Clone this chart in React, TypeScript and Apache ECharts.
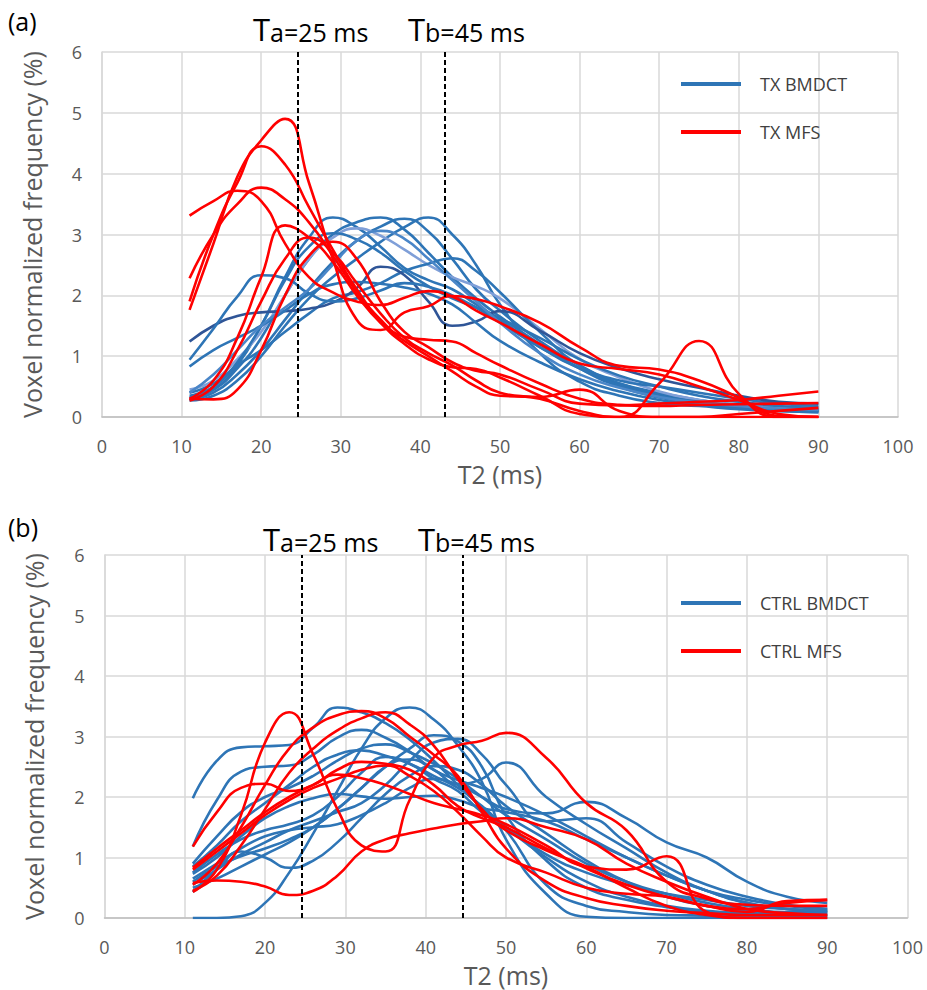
import React, { useEffect, useRef } from "react";
import * as echarts from "echarts";

// T2 sample positions (ms) shared by every curve
const T2_MS = [11, 14, 17, 20, 23, 26, 29, 32, 35, 38, 41, 44, 47, 50, 55, 60, 65, 70, 75, 80, 85, 90];

// (a) TX BMDCT curves
const TX_BMDCT = [
  [0.30, 0.45, 0.85, 1.50, 2.30, 2.95, 3.28, 3.12, 2.80, 2.45, 2.25, 2.10, 1.85, 1.60, 1.15, 0.80, 0.55, 0.40, 0.28, 0.20, 0.13, 0.10],
  [0.32, 0.45, 0.80, 1.30, 2.00, 2.60, 3.00, 3.20, 3.28, 3.08, 2.70, 2.30, 1.95, 1.65, 1.20, 0.80, 0.50, 0.32, 0.22, 0.15, 0.10, 0.08],
  [0.28, 0.40, 0.70, 1.10, 1.60, 2.10, 2.55, 2.90, 3.13, 3.26, 3.05, 2.60, 2.10, 1.75, 1.25, 0.85, 0.55, 0.38, 0.26, 0.18, 0.14, 0.12],
  [0.27, 0.35, 0.60, 1.00, 1.50, 1.95, 2.30, 2.60, 2.88, 3.12, 3.28, 3.00, 2.50, 1.85, 1.05, 0.58, 0.35, 0.23, 0.18, 0.13, 0.10, 0.08],
  [0.45, 0.60, 0.95, 1.40, 2.00, 2.60, 2.95, 3.10, 2.98, 2.75, 2.50, 2.30, 2.15, 1.95, 1.45, 0.95, 0.65, 0.42, 0.28, 0.20, 0.15, 0.12],
  [0.35, 0.50, 0.90, 1.50, 2.25, 2.80, 3.02, 2.92, 2.70, 2.40, 2.15, 1.95, 1.80, 1.62, 1.30, 0.95, 0.68, 0.50, 0.35, 0.25, 0.18, 0.15],
  [0.40, 0.55, 0.85, 1.10, 1.40, 1.70, 1.95, 2.05, 2.20, 2.40, 2.52, 2.61, 2.40, 2.05, 1.40, 0.85, 0.60, 0.50, 0.40, 0.30, 0.22, 0.18],
  [1.24, 1.50, 1.66, 1.72, 1.74, 1.78, 1.88, 2.12, 2.47, 2.33, 1.90, 1.50, 1.57, 1.74, 1.42, 1.05, 0.80, 0.62, 0.48, 0.35, 0.25, 0.22],
  [0.94, 1.45, 1.98, 2.33, 2.28, 2.03, 1.90, 1.95, 2.08, 2.20, 2.14, 2.00, 1.80, 1.55, 1.15, 0.80, 0.52, 0.35, 0.25, 0.18, 0.12, 0.10],
  [0.83, 1.10, 1.30, 1.50, 1.75, 2.02, 2.18, 2.22, 2.19, 2.13, 2.03, 1.85, 1.55, 1.25, 0.90, 0.62, 0.42, 0.28, 0.20, 0.15, 0.12, 0.10],
  [0.40, 0.70, 1.10, 1.50, 1.80, 2.10, 2.50, 2.90, 3.06, 2.93, 2.60, 2.25, 1.90, 1.55, 1.05, 0.70, 0.48, 0.33, 0.24, 0.18, 0.14, 0.12],
];

// (a) TX MFS curves
const TX_MFS = [
  [1.76, 2.85, 3.95, 4.55, 4.90, 3.85, 2.60, 1.60, 1.43, 1.72, 1.82, 1.99, 1.94, 1.82, 1.55, 1.15, 0.84, 0.78, 0.60, 0.32, 0.02, 0.00],
  [1.90, 3.00, 3.85, 4.45, 4.15, 3.45, 2.75, 2.10, 1.60, 1.32, 1.27, 1.24, 1.05, 0.85, 0.55, 0.30, 0.20, 0.18, 0.20, 0.21, 0.22, 0.23],
  [3.31, 3.55, 3.72, 3.55, 2.85, 2.30, 2.05, 1.90, 1.84, 1.96, 2.07, 1.98, 1.75, 1.55, 1.20, 0.88, 0.79, 0.70, 0.50, 0.28, 0.05, 0.00],
  [2.28, 3.00, 3.50, 3.77, 3.58, 3.20, 2.65, 2.05, 1.55, 1.20, 0.95, 0.82, 0.79, 0.65, 0.35, 0.05, 0.00, 0.55, 1.25, 0.38, 0.00, 0.00],
  [0.30, 0.60, 1.30, 2.30, 3.15, 2.95, 2.55, 2.00, 1.55, 1.25, 1.00, 0.75, 0.50, 0.35, 0.33, 0.45, 0.10, 0.00, 0.00, 0.00, 0.00, 0.00],
  [0.30, 0.29, 0.45, 1.10, 2.00, 2.65, 2.88, 2.60, 1.90, 1.40, 1.15, 0.90, 0.76, 0.70, 0.45, 0.22, 0.19, 0.22, 0.25, 0.28, 0.35, 0.42],
  [0.27, 0.50, 1.10, 1.90, 2.60, 2.95, 2.70, 2.20, 1.70, 1.30, 1.05, 0.85, 0.60, 0.40, 0.30, 0.10, 0.00, 0.00, 0.00, 0.05, 0.10, 0.15],
];

// (b) CTRL BMDCT curves
const CTRL_BMDCT = [
  [1.98, 2.60, 2.82, 2.84, 2.86, 3.15, 3.48, 3.40, 3.22, 2.95, 2.60, 2.20, 1.83, 1.45, 0.55, 0.20, 0.10, 0.05, 0.04, 0.03, 0.03, 0.03],
  [0.00, 0.00, 0.03, 0.25, 0.75, 1.40, 2.10, 2.80, 3.30, 3.48, 3.28, 2.85, 2.25, 1.30, 0.40, 0.02, 0.00, 0.00, 0.00, 0.00, 0.00, 0.00],
  [1.18, 1.95, 2.42, 2.50, 2.52, 2.70, 2.98, 3.11, 2.98, 2.75, 2.45, 2.28, 2.15, 2.00, 1.70, 1.35, 1.00, 0.70, 0.45, 0.25, 0.15, 0.12],
  [0.90, 1.35, 1.75, 2.00, 2.15, 2.35, 2.60, 2.80, 2.87, 2.74, 2.55, 2.30, 2.00, 1.70, 1.30, 0.90, 0.60, 0.40, 0.25, 0.15, 0.10, 0.10],
  [0.73, 1.00, 1.35, 1.65, 1.85, 1.98, 2.05, 2.01, 1.97, 2.00, 2.02, 1.95, 1.82, 1.75, 1.60, 1.30, 1.00, 0.70, 0.45, 0.30, 0.20, 0.15],
  [0.60, 0.85, 1.02, 1.15, 1.30, 1.50, 1.80, 2.15, 2.50, 2.62, 2.45, 2.22, 2.30, 2.57, 2.00, 1.55, 1.15, 0.75, 0.45, 0.25, 0.15, 0.10],
  [0.43, 0.80, 1.10, 1.00, 0.83, 0.95, 1.25, 1.65, 2.05, 2.35, 2.51, 2.45, 2.20, 1.85, 1.40, 0.95, 0.60, 0.35, 0.20, 0.12, 0.08, 0.08],
  [0.65, 0.90, 1.15, 1.35, 1.45, 1.50, 1.55, 1.70, 1.90, 2.15, 2.30, 2.20, 2.00, 1.80, 1.73, 1.92, 1.65, 1.25, 1.00, 0.60, 0.35, 0.25],
  [0.55, 0.80, 1.05, 1.25, 1.45, 1.60, 1.75, 1.90, 2.20, 2.60, 2.90, 2.96, 2.70, 2.20, 1.60, 1.65, 1.25, 0.85, 0.55, 0.35, 0.22, 0.15],
  [0.50, 0.65, 0.85, 1.05, 1.25, 1.50, 1.80, 2.15, 2.50, 2.80, 3.02, 2.92, 2.50, 1.70, 0.95, 0.50, 0.30, 0.18, 0.10, 0.06, 0.05, 0.05],
  [0.85, 1.20, 1.60, 1.90, 2.20, 2.50, 2.70, 2.77, 2.68, 2.55, 2.35, 2.15, 1.85, 1.50, 1.00, 0.60, 0.35, 0.20, 0.12, 0.08, 0.06, 0.05],
  [0.75, 1.05, 1.30, 1.45, 1.55, 1.70, 2.00, 2.40, 2.66, 2.55, 2.30, 2.10, 1.75, 1.50, 1.05, 0.75, 0.55, 0.40, 0.30, 0.20, 0.15, 0.12],
];

// (b) CTRL MFS curves
const CTRL_MFS = [
  [0.43, 0.80, 1.70, 2.90, 3.40, 2.70, 1.80, 1.20, 1.10, 1.95, 2.65, 2.85, 2.93, 3.06, 2.65, 1.90, 1.45, 0.60, 0.32, 0.22, 0.20, 0.20],
  [0.58, 0.62, 0.60, 0.52, 0.38, 0.45, 0.70, 1.10, 1.30, 1.40, 1.48, 1.55, 1.60, 1.65, 1.50, 1.30, 0.90, 0.60, 0.35, 0.15, 0.08, 0.05],
  [0.55, 0.90, 1.50, 2.20, 2.80, 3.15, 3.35, 3.42, 3.30, 3.00, 2.70, 2.35, 1.75, 1.15, 0.60, 0.33, 0.20, 0.12, 0.08, 0.05, 0.05, 0.05],
  [1.18, 1.75, 2.15, 2.22, 2.10, 2.20, 2.45, 2.58, 2.55, 2.45, 2.20, 1.85, 1.65, 1.50, 1.15, 0.82, 0.55, 0.35, 0.20, 0.10, 0.28, 0.30],
  [0.83, 1.15, 1.45, 1.75, 2.00, 2.20, 2.37, 2.31, 2.20, 2.05, 1.90, 1.80, 1.70, 1.55, 1.20, 0.85, 0.80, 1.02, 0.10, 0.00, 0.00, 0.00],
  [0.80, 1.10, 1.40, 1.70, 1.95, 2.15, 2.30, 2.45, 2.52, 2.35, 2.10, 1.75, 1.35, 1.00, 0.75, 0.50, 0.40, 0.35, 0.20, 0.15, 0.25, 0.30],
  [0.45, 0.70, 1.20, 1.80, 2.40, 2.80, 3.10, 3.30, 3.40, 3.20, 2.85, 2.30, 1.80, 1.45, 1.12, 0.85, 0.50, 0.20, 0.05, 0.00, 0.00, 0.00],
];

// threshold positions (ms) of the dashed lines
const THRESHOLDS_A = [24.6, 43.1];
const THRESHOLDS_B = [24.6, 44.6];

const FONT = "'Open Sans', 'DejaVu Sans', sans-serif";
const BLUE = "#2E75B6";
const RED = "#FF0000";
const BLUE_SHADES_A = [BLUE, BLUE, BLUE, BLUE, "#7F9FD8", BLUE, BLUE, "#2F5597", BLUE, BLUE, "#4A86C8"];
const GRID_COLOR = "#D9D9D9";
const TICK_COLOR = "#595959";

function buildSeries(curves: number[][], name: string, colors: string[], axisIdx: number, z: number) {
  return curves.map((ys, i) => ({
    type: "line",
    name,
    xAxisIndex: axisIdx,
    yAxisIndex: axisIdx,
    data: ys.map((y, j) => [T2_MS[j], y]),
    smooth: 0.5,
    symbol: "none",
    showSymbol: false,
    lineStyle: { color: colors[i % colors.length], width: 2.6 },
    itemStyle: { color: colors[0] },
    emphasis: { disabled: true },
    silent: true,
    z,
  }));
}

function thresholdLines(values: number[]) {
  return {
    symbol: "none",
    silent: true,
    label: { show: false },
    lineStyle: { color: "#000", type: [5, 3], width: 2 },
    data: values.map((v) => ({ xAxis: v })),
  };
}

function xAxisOpt(idx: number) {
  return {
    type: "value",
    gridIndex: idx,
    min: 0,
    max: 100,
    interval: 10,
    name: "T2 (ms)",
    nameLocation: "middle",
    nameGap: 44,
    nameTextStyle: { fontFamily: FONT, fontSize: 25, color: TICK_COLOR },
    axisLine: { show: true, lineStyle: { color: "#BFBFBF", width: 1.5 } },
    axisTick: { show: false },
    axisLabel: { fontFamily: FONT, fontSize: 18, color: TICK_COLOR, margin: 20 },
    splitLine: { show: true, lineStyle: { color: GRID_COLOR, width: 1.5 } },
  };
}

function yAxisOpt(idx: number) {
  return {
    type: "value",
    gridIndex: idx,
    min: 0,
    max: 6,
    interval: 1,
    name: "Voxel normalized frequency (%)",
    nameLocation: "middle",
    nameGap: 58,
    nameTextStyle: { fontFamily: FONT, fontSize: 25, color: TICK_COLOR },
    axisLine: { show: true, lineStyle: { color: GRID_COLOR, width: 1.5 } },
    axisTick: { show: false },
    axisLabel: { fontFamily: FONT, fontSize: 18, color: TICK_COLOR, margin: 20 },
    splitLine: { show: true, lineStyle: { color: GRID_COLOR, width: 1.5 } },
  };
}

function thresholdTitle(x: number, y: number, sub: string, ms: string) {
  return {
    type: "text",
    x,
    y,
    style: {
      text: `{t|T}{s|${sub}=${ms} ms}`,
      rich: {
        t: { fontFamily: FONT, fontSize: 31, fill: "#000", verticalAlign: "bottom", lineHeight: 34 },
        s: { fontFamily: FONT, fontSize: 25, fill: "#000", verticalAlign: "bottom", lineHeight: 34 },
      },
      verticalAlign: "middle",
    },
  };
}

export default function App() {
  const ref = useRef<HTMLDivElement>(null);

  useEffect(() => {
    if (!ref.current) return;
    const chart = echarts.init(ref.current, undefined, { renderer: "svg" });

    const seriesA = [
      ...buildSeries(TX_BMDCT, "TX BMDCT", BLUE_SHADES_A, 0, 2),
      ...buildSeries(TX_MFS, "TX MFS", [RED], 0, 3),
    ];
    (seriesA[0] as any).markLine = thresholdLines(THRESHOLDS_A);
    const seriesB = [
      ...buildSeries(CTRL_BMDCT, "CTRL BMDCT", [BLUE], 1, 2),
      ...buildSeries(CTRL_MFS, "CTRL MFS", [RED], 1, 3),
    ];
    (seriesB[0] as any).markLine = thresholdLines(THRESHOLDS_B);

    const legendBase = {
      orient: "vertical",
      icon: "rect",
      itemWidth: 60,
      itemHeight: 4,
      itemGap: 30,
      selectedMode: false,
      textStyle: { fontFamily: FONT, fontSize: 18, color: "#404040", padding: [0, 0, 0, 14] },
    };

    chart.setOption({
      animation: false,
      backgroundColor: "#fff",
      grid: [
        { left: 102, top: 52, width: 796, height: 365 },
        { left: 104.5, top: 555, width: 803, height: 363 },
      ],
      xAxis: [xAxisOpt(0), xAxisOpt(1)],
      yAxis: [yAxisOpt(0), yAxisOpt(1)],
      legend: [
        { ...legendBase, data: ["TX BMDCT", "TX MFS"], left: 676, top: 70 },
        { ...legendBase, data: ["CTRL BMDCT", "CTRL MFS"], left: 676, top: 589 },
      ],
      graphic: [
        { type: "text", x: 8, y: 21, style: { text: "(a)", fontFamily: FONT, fontSize: 25, fill: "#000", verticalAlign: "middle" } },
        { type: "text", x: 8, y: 527, style: { text: "(b)", fontFamily: FONT, fontSize: 25, fill: "#000", verticalAlign: "middle" } },
        thresholdTitle(253, 27, "a", "25"),
        thresholdTitle(408, 27, "b", "45"),
        thresholdTitle(263, 537, "a", "25"),
        thresholdTitle(418, 537, "b", "45"),
      ],
      series: [...seriesA, ...seriesB],
    });

    return () => chart.dispose();
  }, []);

  return <div ref={ref} style={{ position: "absolute", left: 0, top: 0, width: 927, height: 990 }} />;
}
